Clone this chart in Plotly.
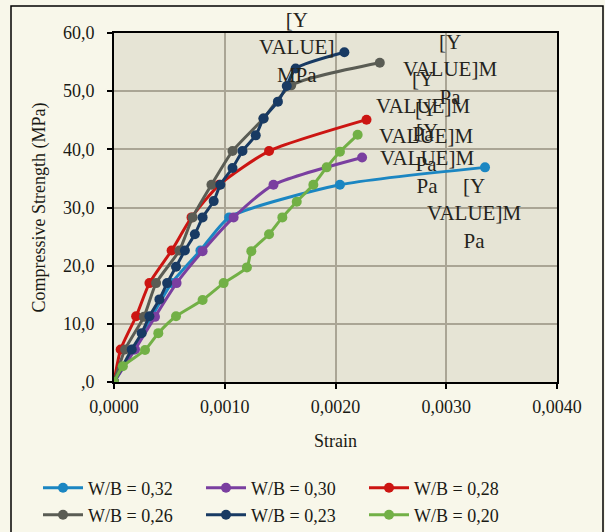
import plotly.graph_objects as go

series_names = ["W/B = 0,32", "W/B = 0,30", "W/B = 0,28", "W/B = 0,26", "W/B = 0,23", "W/B = 0,20"]
colors = ["#1b86c2", "#7a3fa0", "#cc1512", "#5a5c54", "#183a63", "#72b046"]

x_032 = [0, 0.00018, 0.00034, 0.00052, 0.00078, 0.00104, 0.00204, 0.00335]
y_032 = [0, 5.6, 11.2, 17.0, 22.6, 28.3, 33.9, 36.9]

x_030 = [0, 0.00019, 0.00037, 0.000565, 0.0008, 0.00108, 0.00144, 0.00224]
y_030 = [0, 5.6, 11.2, 17.0, 22.5, 28.3, 33.9, 38.6]

x_028 = [0, 0.00006, 0.0002, 0.00032, 0.00052, 0.0007, 0.00095, 0.0014, 0.00228]
y_028 = [0, 5.6, 11.3, 17.0, 22.6, 28.3, 33.9, 39.7, 45.1]

x_026 = [0, 0.0001, 0.00027, 0.00038, 0.00059, 0.00071, 0.00088, 0.00107, 0.00135, 0.0016, 0.0024]
y_026 = [0, 5.6, 11.2, 17.0, 22.6, 28.3, 33.9, 39.7, 45.3, 51.0, 54.9]

x_023 = [0, 0.00016, 0.00025, 0.00032, 0.00041, 0.00048, 0.00056, 0.00064, 0.00073, 0.0008,
         0.0009, 0.00096, 0.00107, 0.00116, 0.00128, 0.00135, 0.00148, 0.00156, 0.00164, 0.00208]
y_023 = [0, 5.6, 8.4, 11.3, 14.2, 17.0, 19.8, 22.6, 25.4, 28.3,
         31.1, 33.9, 36.8, 39.7, 42.4, 45.3, 48.2, 50.9, 53.9, 56.7]

x_020 = [0, 0.00008, 0.00028, 0.0004, 0.00056, 0.0008, 0.00099, 0.0012, 0.00124, 0.0014,
         0.00152, 0.00165, 0.0018, 0.00192, 0.00204, 0.0022]
y_020 = [0, 2.7, 5.5, 8.4, 11.3, 14.1, 17.0, 19.7, 22.5, 25.4,
         28.3, 31.0, 33.9, 36.9, 39.6, 42.5]

label_texts = ["[Y<br>VALUE]M<br>Pa", "[Y<br>VALUE]M<br>Pa", "[Y<br>VALUE]M<br>Pa",
               "[Y<br>VALUE]M<br>Pa", "[Y<br>VALUE]<br>MPa", "[Y<br>VALUE]M<br>Pa"]
label_shift = [(-11, -46), (65, -1), (56, 13), (70, -7), (-48, 5), (68, -2)]

y_tickvals = [0, 10, 20, 30, 40, 50, 60]
y_ticktext = [",0", "10,0", "20,0", "30,0", "40,0", "50,0", "60,0"]
x_tickvals = [0, 0.001, 0.002, 0.003, 0.004]
x_ticktext = ["0,0000", "0,0010", "0,0020", "0,0030", "0,0040"]

xs = [x_032, x_030, x_028, x_026, x_023, x_020]
ys = [y_032, y_030, y_028, y_026, y_023, y_020]

FONT = "Liberation Serif, Times New Roman, serif"

W, H = 605, 532
ml, mr, mt, mb = 114, 48, 33, 150
pw = W - ml - mr
ph = H - mt - mb
def px(xp):
    return (xp - ml) / pw
def py(yp):
    return (H - mb - yp) / ph

fig = go.Figure()
for i, (name, c, x, y) in enumerate(zip(series_names, colors, xs, ys)):
    fig.add_trace(go.Scatter(
        x=x, y=y, name=name, mode="lines+markers",
        line=dict(color=c, width=3, shape="spline", smoothing=0.6),
        marker=dict(color=c, size=10),
        legend="legend" if i < 3 else "legend2",
    ))

for x, y, t, (dx, dy) in zip(xs, ys, label_texts, label_shift):
    fig.add_annotation(x=x[-1], y=y[-1], text=t, showarrow=False,
                       xshift=dx, yshift=dy, xanchor="center", yanchor="middle",
                       font=dict(family=FONT, size=21, color="#25241c"))

fig.add_shape(type="rect", xref="paper", yref="paper",
              x0=px(11), x1=px(603), y0=py(545), y1=py(6),
              line=dict(color="black", width=1.5), layer="below")

leg_common = dict(orientation="h", xanchor="left", yanchor="middle",
                  entrywidth=108, entrywidthmode="pixels", bgcolor="rgba(0,0,0,0)",
                  font=dict(family=FONT, size=18), itemwidth=40)

fig.update_layout(
    width=W, height=H,
    margin=dict(l=ml, r=mr, t=mt, b=mb, autoexpand=False),
    paper_bgcolor="#f8f7ea",
    plot_bgcolor="#e6e4d5",
    font=dict(family=FONT, size=18, color="#1a1a14"),
    showlegend=True,
    legend=dict(x=px(38), y=py(488), **leg_common),
    legend2=dict(x=px(38), y=py(515), **leg_common),
    xaxis=dict(range=[0, 0.004], tickvals=x_tickvals, ticktext=x_ticktext,
               showgrid=True, gridcolor="#aaa595", gridwidth=1.5,
               showline=True, linecolor="black", linewidth=2, mirror=True,
               ticks="outside", ticklen=5, tickcolor="black", tickwidth=1.5,
               zeroline=False, automargin=False, ticklabelstandoff=2,
               title=dict(text="Strain", font=dict(family=FONT, size=18), standoff=19)),
    yaxis=dict(range=[0, 60], tickvals=y_tickvals, ticktext=y_ticktext,
               showgrid=True, gridcolor="#aaa595", gridwidth=1.5,
               showline=True, linecolor="black", linewidth=2, mirror=True,
               ticks="outside", ticklen=5, tickcolor="black", tickwidth=1.5,
               zeroline=False, automargin=False, ticklabelstandoff=9,
               title=dict(text="Compressive Strength (MPa)", font=dict(family=FONT, size=18), standoff=13)),
)

fig.write_html("out.html", config={"displayModeBar": False},
               post_script="document.body.style.margin='0px';document.body.style.background='#f8f7ea';")
